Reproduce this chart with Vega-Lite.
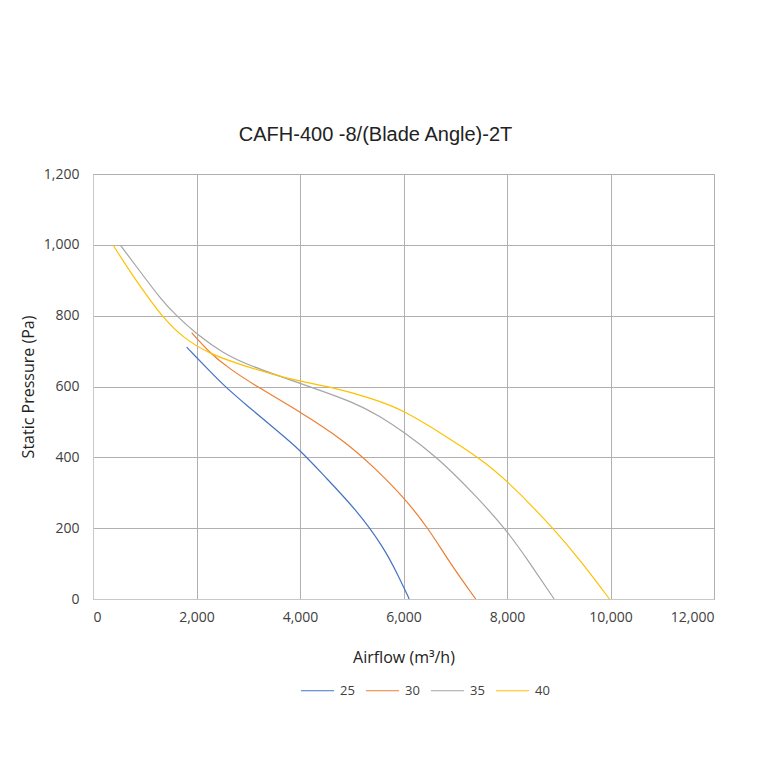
{
  "$schema": "https://vega.github.io/schema/vega-lite/v6.json",
  "autosize": "none",
  "width": 621,
  "height": 425,
  "padding": {"left": 93, "top": 174, "right": 46, "bottom": 161},
  "background": "white",
  "title": {
    "text": "CAFH-400 -8/(Blade Angle)-2T",
    "font": "Liberation Sans",
    "fontSize": 20,
    "fontWeight": "normal",
    "color": "#222222",
    "anchor": "middle",
    "dx": -28,
    "offset": 22
  },
  "config": {
    "view": {"stroke": "#bdbdbd", "strokeWidth": 1},
    "axis": {
      "labelFont": "Open Sans",
      "labelFontSize": 14,
      "labelColor": "#404040",
      "titleFont": "Open Sans",
      "titleFontSize": 16,
      "titleFontWeight": "normal",
      "titleColor": "#222222",
      "gridColor": "#b0b0b0",
      "gridWidth": 1,
      "ticks": false,
      "domainColor": "#c8c8c8"
    },
    "legend": {
      "labelFont": "Open Sans",
      "labelFontSize": 13,
      "labelColor": "#404040"
    }
  },
  "data": {
    "values": [
      {"angle": "25", "airflow": 1810, "pressure": 711},
      {"angle": "25", "airflow": 2000, "pressure": 682},
      {"angle": "25", "airflow": 2200, "pressure": 652},
      {"angle": "25", "airflow": 2518, "pressure": 604},
      {"angle": "25", "airflow": 3000, "pressure": 543},
      {"angle": "25", "airflow": 3500, "pressure": 482},
      {"angle": "25", "airflow": 4000, "pressure": 421},
      {"angle": "25", "airflow": 4451, "pressure": 350},
      {"angle": "25", "airflow": 5095, "pressure": 251},
      {"angle": "25", "airflow": 5610, "pressure": 148},
      {"angle": "25", "airflow": 5900, "pressure": 66},
      {"angle": "25", "airflow": 6110, "pressure": 0},
      {"angle": "30", "airflow": 1907, "pressure": 752},
      {"angle": "30", "airflow": 2261, "pressure": 694},
      {"angle": "30", "airflow": 2647, "pressure": 649},
      {"angle": "30", "airflow": 3163, "pressure": 600},
      {"angle": "30", "airflow": 4000, "pressure": 529},
      {"angle": "30", "airflow": 4837, "pressure": 449},
      {"angle": "30", "airflow": 5417, "pressure": 374},
      {"angle": "30", "airflow": 5996, "pressure": 289},
      {"angle": "30", "airflow": 6480, "pressure": 200},
      {"angle": "30", "airflow": 6899, "pressure": 101},
      {"angle": "30", "airflow": 7395, "pressure": 0},
      {"angle": "35", "airflow": 535, "pressure": 998},
      {"angle": "35", "airflow": 908, "pressure": 925},
      {"angle": "35", "airflow": 1295, "pressure": 850},
      {"angle": "35", "airflow": 1585, "pressure": 803},
      {"angle": "35", "airflow": 2016, "pressure": 746},
      {"angle": "35", "airflow": 2518, "pressure": 694},
      {"angle": "35", "airflow": 3000, "pressure": 660},
      {"angle": "35", "airflow": 4000, "pressure": 609},
      {"angle": "35", "airflow": 5096, "pressure": 553},
      {"angle": "35", "airflow": 5546, "pressure": 515},
      {"angle": "35", "airflow": 5996, "pressure": 473},
      {"angle": "35", "airflow": 6640, "pressure": 402},
      {"angle": "35", "airflow": 7349, "pressure": 299},
      {"angle": "35", "airflow": 7994, "pressure": 195},
      {"angle": "35", "airflow": 8444, "pressure": 101},
      {"angle": "35", "airflow": 8910, "pressure": 0},
      {"angle": "40", "airflow": 393, "pressure": 998},
      {"angle": "40", "airflow": 779, "pressure": 910},
      {"angle": "40", "airflow": 1101, "pressure": 845},
      {"angle": "40", "airflow": 1327, "pressure": 800},
      {"angle": "40", "airflow": 1745, "pressure": 736},
      {"angle": "40", "airflow": 2261, "pressure": 692},
      {"angle": "40", "airflow": 2841, "pressure": 662},
      {"angle": "40", "airflow": 3807, "pressure": 619},
      {"angle": "40", "airflow": 4580, "pressure": 600},
      {"angle": "40", "airflow": 5417, "pressure": 565},
      {"angle": "40", "airflow": 5996, "pressure": 534},
      {"angle": "40", "airflow": 6834, "pressure": 458},
      {"angle": "40", "airflow": 7478, "pressure": 397},
      {"angle": "40", "airflow": 7994, "pressure": 336},
      {"angle": "40", "airflow": 8896, "pressure": 200},
      {"angle": "40", "airflow": 9410, "pressure": 110},
      {"angle": "40", "airflow": 9980, "pressure": 0}
    ]
  },
  "mark": {"type": "line", "interpolate": "basis", "strokeWidth": 1.2},
  "encoding": {
    "x": {
      "field": "airflow",
      "type": "quantitative",
      "scale": {"domain": [0, 12000], "nice": false},
      "axis": {
        "title": "Airflow (m³/h)",
        "values": [0, 2000, 4000, 6000, 8000, 10000, 12000],
        "format": ",d",
        "labelPadding": 11,
        "titlePadding": 25
      }
    },
    "y": {
      "field": "pressure",
      "type": "quantitative",
      "scale": {"domain": [0, 1200], "nice": false},
      "axis": {
        "title": "Static Pressure (Pa)",
        "values": [0, 200, 400, 600, 800, 1000, 1200],
        "format": ",d",
        "labelPadding": 14,
        "titlePadding": 7
      }
    },
    "color": {
      "field": "angle",
      "type": "nominal",
      "scale": {
        "domain": ["25", "30", "35", "40"],
        "range": ["#4472C4", "#ED7D31", "#A5A5A5", "#FFC000"]
      },
      "legend": {
        "title": null,
        "orient": "none",
        "direction": "horizontal",
        "legendX": 207,
        "legendY": 499,
        "symbolType": "stroke",
        "symbolSize": 1100,
        "symbolStrokeWidth": 1.2,
        "labelOffset": 5,
        "columnPadding": 8
      }
    }
  }
}
